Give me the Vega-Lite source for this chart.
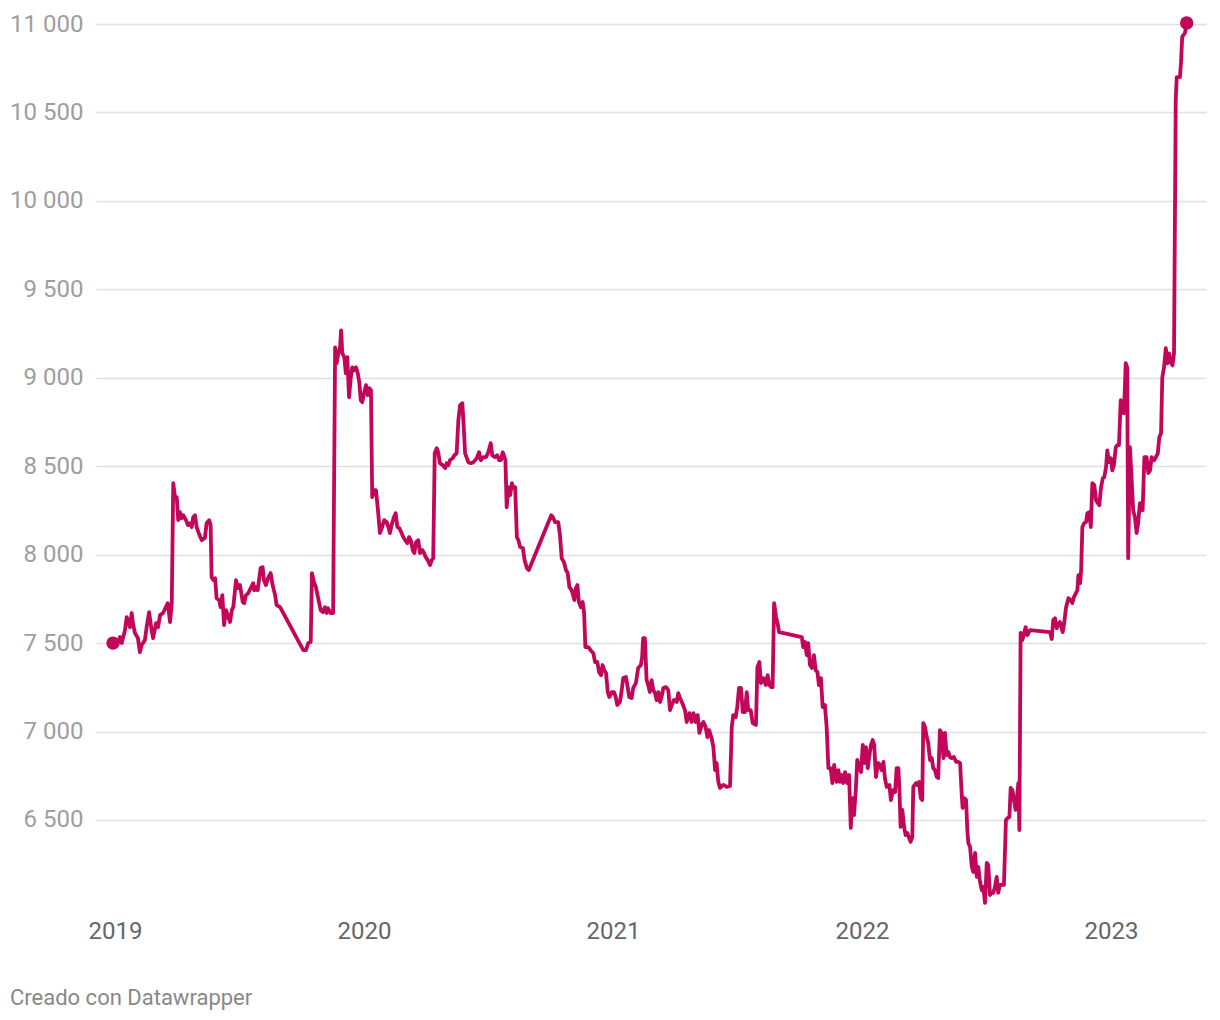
{
"$schema":"https://vega.github.io/schema/vega-lite/v6.json",
"width":1110,"height":880,
"autosize":{"type":"none"},
"padding":{"left":96,"top":24,"right":14,"bottom":116},
"background":"white",
"title":{"text":"Creado con Datawrapper","orient":"bottom","anchor":"start","frame":"group","dx":-86,"offset":45,"font":"Roboto","fontSize":22,"fontWeight":"normal","color":"#888888"},
"config":{"view":{"stroke":null},"font":"Roboto"},
"data":{"values":[
{"t":2018.992,"v":7500},{"t":2019.008,"v":7489},{"t":2019.020,"v":7534},{"t":2019.027,"v":7500},{"t":2019.040,"v":7573},{"t":2019.047,"v":7647},{"t":2019.060,"v":7590},{"t":2019.067,"v":7670},{"t":2019.072,"v":7613},{"t":2019.080,"v":7557},{"t":2019.092,"v":7528},{"t":2019.100,"v":7449},{"t":2019.107,"v":7489},{"t":2019.120,"v":7517},{"t":2019.127,"v":7590},{"t":2019.137,"v":7675},{"t":2019.147,"v":7573},{"t":2019.153,"v":7528},{"t":2019.165,"v":7613},{"t":2019.173,"v":7590},{"t":2019.181,"v":7658},{"t":2019.193,"v":7670},{"t":2019.204,"v":7703},{"t":2019.212,"v":7726},{"t":2019.221,"v":7619},{"t":2019.228,"v":7726},{"t":2019.234,"v":8404},{"t":2019.241,"v":8325},{"t":2019.248,"v":8325},{"t":2019.254,"v":8195},{"t":2019.261,"v":8240},{"t":2019.268,"v":8206},{"t":2019.274,"v":8223},{"t":2019.285,"v":8195},{"t":2019.293,"v":8167},{"t":2019.301,"v":8178},{"t":2019.308,"v":8156},{"t":2019.314,"v":8212},{"t":2019.321,"v":8223},{"t":2019.328,"v":8156},{"t":2019.335,"v":8127},{"t":2019.348,"v":8082},{"t":2019.361,"v":8094},{"t":2019.368,"v":8178},{"t":2019.378,"v":8195},{"t":2019.384,"v":8167},{"t":2019.388,"v":7873},{"t":2019.395,"v":7856},{"t":2019.402,"v":7867},{"t":2019.408,"v":7754},{"t":2019.419,"v":7743},{"t":2019.424,"v":7703},{"t":2019.431,"v":7771},{"t":2019.438,"v":7602},{"t":2019.446,"v":7686},{"t":2019.455,"v":7647},{"t":2019.462,"v":7619},{"t":2019.469,"v":7686},{"t":2019.475,"v":7703},{"t":2019.482,"v":7799},{"t":2019.486,"v":7856},{"t":2019.493,"v":7811},{"t":2019.502,"v":7828},{"t":2019.513,"v":7732},{"t":2019.519,"v":7726},{"t":2019.526,"v":7771},{"t":2019.535,"v":7782},{"t":2019.545,"v":7811},{"t":2019.555,"v":7839},{"t":2019.559,"v":7799},{"t":2019.566,"v":7816},{"t":2019.573,"v":7799},{"t":2019.580,"v":7873},{"t":2019.585,"v":7924},{"t":2019.593,"v":7929},{"t":2019.598,"v":7856},{"t":2019.606,"v":7828},{"t":2019.616,"v":7873},{"t":2019.625,"v":7896},{"t":2019.633,"v":7828},{"t":2019.643,"v":7771},{"t":2019.649,"v":7715},{"t":2019.663,"v":7703},{"t":2019.756,"v":7460},{"t":2019.767,"v":7460},{"t":2019.776,"v":7500},{"t":2019.786,"v":7506},{"t":2019.791,"v":7896},{"t":2019.799,"v":7845},{"t":2019.807,"v":7816},{"t":2019.815,"v":7760},{"t":2019.826,"v":7686},{"t":2019.835,"v":7675},{"t":2019.843,"v":7703},{"t":2019.850,"v":7670},{"t":2019.855,"v":7698},{"t":2019.866,"v":7670},{"t":2019.876,"v":7670},{"t":2019.884,"v":9172},{"t":2019.890,"v":9082},{"t":2019.897,"v":9138},{"t":2019.904,"v":9172},{"t":2019.908,"v":9268},{"t":2019.913,"v":9138},{"t":2019.921,"v":9116},{"t":2019.927,"v":9025},{"t":2019.933,"v":9116},{"t":2019.940,"v":8890},{"t":2019.947,"v":9003},{"t":2019.953,"v":9059},{"t":2019.961,"v":9042},{"t":2019.968,"v":9059},{"t":2019.975,"v":9025},{"t":2019.981,"v":8975},{"t":2019.987,"v":8873},{"t":2019.993,"v":8862},{"t":2020.000,"v":8913},{"t":2020.008,"v":8958},{"t":2020.015,"v":8902},{"t":2020.021,"v":8941},{"t":2020.028,"v":8930},{"t":2020.033,"v":8325},{"t":2020.040,"v":8365},{"t":2020.048,"v":8365},{"t":2020.055,"v":8268},{"t":2020.064,"v":8122},{"t":2020.073,"v":8156},{"t":2020.081,"v":8195},{"t":2020.091,"v":8184},{"t":2020.098,"v":8156},{"t":2020.104,"v":8122},{"t":2020.111,"v":8167},{"t":2020.120,"v":8212},{"t":2020.127,"v":8234},{"t":2020.134,"v":8156},{"t":2020.142,"v":8150},{"t":2020.151,"v":8122},{"t":2020.158,"v":8099},{"t":2020.165,"v":8082},{"t":2020.174,"v":8065},{"t":2020.181,"v":8099},{"t":2020.188,"v":8082},{"t":2020.196,"v":8026},{"t":2020.202,"v":8009},{"t":2020.209,"v":8071},{"t":2020.218,"v":8082},{"t":2020.225,"v":8009},{"t":2020.234,"v":8026},{"t":2020.241,"v":8009},{"t":2020.248,"v":7986},{"t":2020.256,"v":7969},{"t":2020.265,"v":7941},{"t":2020.272,"v":7969},{"t":2020.278,"v":7980},{"t":2020.284,"v":8573},{"t":2020.292,"v":8602},{"t":2020.298,"v":8579},{"t":2020.305,"v":8517},{"t":2020.316,"v":8506},{"t":2020.326,"v":8489},{"t":2020.332,"v":8517},{"t":2020.339,"v":8506},{"t":2020.345,"v":8534},{"t":2020.356,"v":8545},{"t":2020.363,"v":8562},{"t":2020.372,"v":8573},{"t":2020.379,"v":8760},{"t":2020.386,"v":8845},{"t":2020.395,"v":8856},{"t":2020.399,"v":8760},{"t":2020.406,"v":8573},{"t":2020.419,"v":8523},{"t":2020.429,"v":8517},{"t":2020.439,"v":8523},{"t":2020.453,"v":8545},{"t":2020.462,"v":8579},{"t":2020.469,"v":8534},{"t":2020.479,"v":8551},{"t":2020.490,"v":8551},{"t":2020.499,"v":8579},{"t":2020.509,"v":8630},{"t":2020.515,"v":8562},{"t":2020.526,"v":8551},{"t":2020.535,"v":8562},{"t":2020.543,"v":8534},{"t":2020.550,"v":8534},{"t":2020.557,"v":8579},{"t":2020.568,"v":8534},{"t":2020.573,"v":8268},{"t":2020.580,"v":8381},{"t":2020.587,"v":8336},{"t":2020.594,"v":8404},{"t":2020.600,"v":8376},{"t":2020.607,"v":8381},{"t":2020.614,"v":8099},{"t":2020.620,"v":8082},{"t":2020.627,"v":8043},{"t":2020.638,"v":8037},{"t":2020.645,"v":7969},{"t":2020.654,"v":7924},{"t":2020.662,"v":7913},{"t":2020.752,"v":8223},{"t":2020.759,"v":8212},{"t":2020.767,"v":8184},{"t":2020.780,"v":8184},{"t":2020.787,"v":8110},{"t":2020.794,"v":7980},{"t":2020.803,"v":7958},{"t":2020.811,"v":7913},{"t":2020.818,"v":7896},{"t":2020.825,"v":7816},{"t":2020.834,"v":7799},{"t":2020.845,"v":7743},{"t":2020.851,"v":7811},{"t":2020.857,"v":7828},{"t":2020.863,"v":7732},{"t":2020.871,"v":7703},{"t":2020.878,"v":7732},{"t":2020.884,"v":7670},{"t":2020.889,"v":7477},{"t":2020.901,"v":7477},{"t":2020.910,"v":7460},{"t":2020.921,"v":7443},{"t":2020.928,"v":7393},{"t":2020.937,"v":7393},{"t":2020.944,"v":7336},{"t":2020.952,"v":7319},{"t":2020.958,"v":7376},{"t":2020.965,"v":7347},{"t":2020.972,"v":7330},{"t":2020.979,"v":7223},{"t":2020.985,"v":7195},{"t":2020.995,"v":7223},{"t":2021.004,"v":7223},{"t":2021.011,"v":7195},{"t":2021.017,"v":7150},{"t":2021.028,"v":7167},{"t":2021.035,"v":7234},{"t":2021.041,"v":7302},{"t":2021.052,"v":7308},{"t":2021.059,"v":7251},{"t":2021.065,"v":7195},{"t":2021.075,"v":7189},{"t":2021.081,"v":7246},{"t":2021.092,"v":7274},{"t":2021.101,"v":7359},{"t":2021.112,"v":7376},{"t":2021.117,"v":7421},{"t":2021.121,"v":7528},{"t":2021.128,"v":7528},{"t":2021.135,"v":7291},{"t":2021.141,"v":7263},{"t":2021.148,"v":7223},{"t":2021.155,"v":7291},{"t":2021.162,"v":7234},{"t":2021.169,"v":7217},{"t":2021.175,"v":7178},{"t":2021.182,"v":7223},{"t":2021.189,"v":7167},{"t":2021.195,"v":7195},{"t":2021.202,"v":7246},{"t":2021.213,"v":7251},{"t":2021.222,"v":7234},{"t":2021.229,"v":7121},{"t":2021.236,"v":7150},{"t":2021.245,"v":7178},{"t":2021.256,"v":7167},{"t":2021.262,"v":7217},{"t":2021.269,"v":7189},{"t":2021.278,"v":7161},{"t":2021.289,"v":7121},{"t":2021.296,"v":7054},{"t":2021.307,"v":7104},{"t":2021.316,"v":7054},{"t":2021.323,"v":7104},{"t":2021.332,"v":7054},{"t":2021.340,"v":7093},{"t":2021.347,"v":6992},{"t":2021.356,"v":7037},{"t":2021.363,"v":7054},{"t":2021.372,"v":7025},{"t":2021.379,"v":6969},{"t":2021.386,"v":7008},{"t":2021.396,"v":6963},{"t":2021.403,"v":6912},{"t":2021.410,"v":6782},{"t":2021.416,"v":6822},{"t":2021.423,"v":6715},{"t":2021.430,"v":6681},{"t":2021.443,"v":6698},{"t":2021.457,"v":6687},{"t":2021.470,"v":6692},{"t":2021.477,"v":7025},{"t":2021.483,"v":7093},{"t":2021.493,"v":7082},{"t":2021.499,"v":7138},{"t":2021.506,"v":7246},{"t":2021.514,"v":7246},{"t":2021.521,"v":7110},{"t":2021.530,"v":7110},{"t":2021.537,"v":7223},{"t":2021.543,"v":7121},{"t":2021.553,"v":7121},{"t":2021.561,"v":7048},{"t":2021.574,"v":7037},{"t":2021.580,"v":7364},{"t":2021.588,"v":7393},{"t":2021.594,"v":7274},{"t":2021.604,"v":7302},{"t":2021.613,"v":7263},{"t":2021.621,"v":7319},{"t":2021.628,"v":7263},{"t":2021.635,"v":7251},{"t":2021.641,"v":7251},{"t":2021.647,"v":7726},{"t":2021.655,"v":7647},{"t":2021.661,"v":7613},{"t":2021.667,"v":7562},{"t":2021.758,"v":7534},{"t":2021.764,"v":7477},{"t":2021.771,"v":7506},{"t":2021.778,"v":7432},{"t":2021.784,"v":7500},{"t":2021.791,"v":7376},{"t":2021.799,"v":7359},{"t":2021.807,"v":7432},{"t":2021.814,"v":7347},{"t":2021.821,"v":7336},{"t":2021.827,"v":7263},{"t":2021.835,"v":7302},{"t":2021.842,"v":7138},{"t":2021.851,"v":7150},{"t":2021.858,"v":7025},{"t":2021.865,"v":6793},{"t":2021.874,"v":6793},{"t":2021.881,"v":6709},{"t":2021.888,"v":6811},{"t":2021.898,"v":6715},{"t":2021.905,"v":6782},{"t":2021.912,"v":6715},{"t":2021.918,"v":6754},{"t":2021.925,"v":6709},{"t":2021.932,"v":6771},{"t":2021.941,"v":6709},{"t":2021.948,"v":6754},{"t":2021.955,"v":6455},{"t":2021.961,"v":6624},{"t":2021.968,"v":6528},{"t":2021.975,"v":6669},{"t":2021.981,"v":6839},{"t":2021.988,"v":6799},{"t":2021.996,"v":6771},{"t":2022.003,"v":6924},{"t":2022.009,"v":6822},{"t":2022.016,"v":6912},{"t":2022.023,"v":6793},{"t":2022.029,"v":6856},{"t":2022.036,"v":6924},{"t":2022.043,"v":6952},{"t":2022.049,"v":6924},{"t":2022.056,"v":6743},{"t":2022.065,"v":6822},{"t":2022.072,"v":6811},{"t":2022.079,"v":6782},{"t":2022.086,"v":6828},{"t":2022.092,"v":6737},{"t":2022.099,"v":6687},{"t":2022.110,"v":6698},{"t":2022.116,"v":6613},{"t":2022.125,"v":6669},{"t":2022.133,"v":6658},{"t":2022.139,"v":6793},{"t":2022.146,"v":6793},{"t":2022.150,"v":6687},{"t":2022.155,"v":6461},{"t":2022.162,"v":6557},{"t":2022.169,"v":6461},{"t":2022.175,"v":6415},{"t":2022.182,"v":6427},{"t":2022.189,"v":6399},{"t":2022.195,"v":6376},{"t":2022.202,"v":6404},{"t":2022.206,"v":6687},{"t":2022.217,"v":6709},{"t":2022.222,"v":6698},{"t":2022.229,"v":6715},{"t":2022.236,"v":6624},{"t":2022.242,"v":6613},{"t":2022.246,"v":7048},{"t":2022.253,"v":7025},{"t":2022.260,"v":6969},{"t":2022.266,"v":6935},{"t":2022.273,"v":6839},{"t":2022.280,"v":6850},{"t":2022.286,"v":6793},{"t":2022.293,"v":6782},{"t":2022.300,"v":6743},{"t":2022.306,"v":6737},{"t":2022.313,"v":7008},{"t":2022.320,"v":6992},{"t":2022.327,"v":6850},{"t":2022.333,"v":6992},{"t":2022.340,"v":6867},{"t":2022.347,"v":6884},{"t":2022.353,"v":6856},{"t":2022.360,"v":6850},{"t":2022.369,"v":6856},{"t":2022.378,"v":6828},{"t":2022.387,"v":6828},{"t":2022.394,"v":6822},{"t":2022.400,"v":6658},{"t":2022.404,"v":6568},{"t":2022.411,"v":6624},{"t":2022.418,"v":6613},{"t":2022.423,"v":6443},{"t":2022.427,"v":6370},{"t":2022.434,"v":6347},{"t":2022.441,"v":6234},{"t":2022.447,"v":6206},{"t":2022.454,"v":6314},{"t":2022.461,"v":6178},{"t":2022.467,"v":6234},{"t":2022.474,"v":6150},{"t":2022.481,"v":6104},{"t":2022.487,"v":6121},{"t":2022.494,"v":6031},{"t":2022.501,"v":6257},{"t":2022.507,"v":6246},{"t":2022.514,"v":6076},{"t":2022.521,"v":6088},{"t":2022.527,"v":6088},{"t":2022.534,"v":6121},{"t":2022.541,"v":6178},{"t":2022.547,"v":6088},{"t":2022.554,"v":6133},{"t":2022.561,"v":6133},{"t":2022.570,"v":6133},{"t":2022.578,"v":6500},{"t":2022.585,"v":6511},{"t":2022.592,"v":6517},{"t":2022.597,"v":6681},{"t":2022.604,"v":6669},{"t":2022.610,"v":6613},{"t":2022.617,"v":6557},{"t":2022.624,"v":6653},{"t":2022.628,"v":6709},{"t":2022.632,"v":6443},{"t":2022.637,"v":7557},{"t":2022.644,"v":7517},{"t":2022.651,"v":7557},{"t":2022.657,"v":7590},{"t":2022.664,"v":7545},{"t":2022.675,"v":7573},{"t":2022.755,"v":7562},{"t":2022.762,"v":7523},{"t":2022.768,"v":7630},{"t":2022.775,"v":7641},{"t":2022.782,"v":7585},{"t":2022.788,"v":7602},{"t":2022.795,"v":7619},{"t":2022.806,"v":7562},{"t":2022.812,"v":7613},{"t":2022.819,"v":7698},{"t":2022.829,"v":7754},{"t":2022.838,"v":7743},{"t":2022.845,"v":7726},{"t":2022.851,"v":7760},{"t":2022.859,"v":7782},{"t":2022.865,"v":7799},{"t":2022.869,"v":7884},{"t":2022.876,"v":7839},{"t":2022.880,"v":7913},{"t":2022.885,"v":8156},{"t":2022.892,"v":8178},{"t":2022.900,"v":8184},{"t":2022.905,"v":8234},{"t":2022.912,"v":8240},{"t":2022.919,"v":8156},{"t":2022.925,"v":8404},{"t":2022.933,"v":8393},{"t":2022.940,"v":8308},{"t":2022.947,"v":8291},{"t":2022.953,"v":8280},{"t":2022.960,"v":8381},{"t":2022.967,"v":8432},{"t":2022.973,"v":8438},{"t":2022.980,"v":8494},{"t":2022.985,"v":8590},{"t":2022.992,"v":8523},{"t":2022.999,"v":8545},{"t":2023.005,"v":8477},{"t":2023.012,"v":8506},{"t":2023.019,"v":8607},{"t":2023.025,"v":8619},{"t":2023.032,"v":8619},{"t":2023.039,"v":8873},{"t":2023.045,"v":8805},{"t":2023.052,"v":8800},{"t":2023.059,"v":9082},{"t":2023.065,"v":9059},{"t":2023.069,"v":7980},{"t":2023.076,"v":8608},{"t":2023.083,"v":8421},{"t":2023.089,"v":8251},{"t":2023.096,"v":8212},{"t":2023.103,"v":8122},{"t":2023.109,"v":8178},{"t":2023.116,"v":8291},{"t":2023.127,"v":8251},{"t":2023.134,"v":8551},{"t":2023.143,"v":8551},{"t":2023.150,"v":8461},{"t":2023.157,"v":8477},{"t":2023.163,"v":8551},{"t":2023.173,"v":8534},{"t":2023.180,"v":8551},{"t":2023.188,"v":8573},{"t":2023.194,"v":8664},{"t":2023.201,"v":8687},{"t":2023.206,"v":9003},{"t":2023.213,"v":9059},{"t":2023.220,"v":9167},{"t":2023.227,"v":9082},{"t":2023.233,"v":9138},{"t":2023.240,"v":9087},{"t":2023.247,"v":9070},{"t":2023.253,"v":9138},{"t":2023.260,"v":10570},{"t":2023.264,"v":10700},{"t":2023.277,"v":10700},{"t":2023.281,"v":10780},{"t":2023.286,"v":10927},{"t":2023.297,"v":10949},{"t":2023.304,"v":11006}
]},
"encoding":{
"x":{"field":"t","type":"quantitative","scale":{"domain":[2018.9237,2023.3815],"nice":false,"zero":false},
"axis":{"title":null,"values":[2019,2020,2021,2022,2023],"format":"d","grid":false,"domain":false,"ticks":false,"labelPadding":15,"labelFont":"Roboto","labelFontSize":24,"labelColor":"#666666","labelFlush":false}},
"y":{"field":"v","type":"quantitative","scale":{"domain":[6025,11000],"nice":false,"zero":false},
"axis":{"title":null,"values":[6500,7000,7500,8000,8500,9000,9500,10000,10500,11000],"labelExpr":"replace(format(datum.value, ','), ',', ' ')","domain":false,"ticks":false,"labelPadding":13,"labelFont":"Roboto","labelFontSize":24,"labelColor":"#9e9e9e","gridColor":"#e0e0e0","gridWidth":1.5}}
},
"layer":[
{"mark":{"type":"line","color":"#c2075a","strokeWidth":3.8,"strokeJoin":"round","strokeCap":"round"}},
{"transform":[{"joinaggregate":[{"op":"min","field":"t","as":"tmin"},{"op":"max","field":"t","as":"tmax"}]},{"filter":"datum.t == datum.tmin || datum.t == datum.tmax"}],
"mark":{"type":"point","filled":true,"opacity":1,"color":"#c2075a","size":180}}
]
}
